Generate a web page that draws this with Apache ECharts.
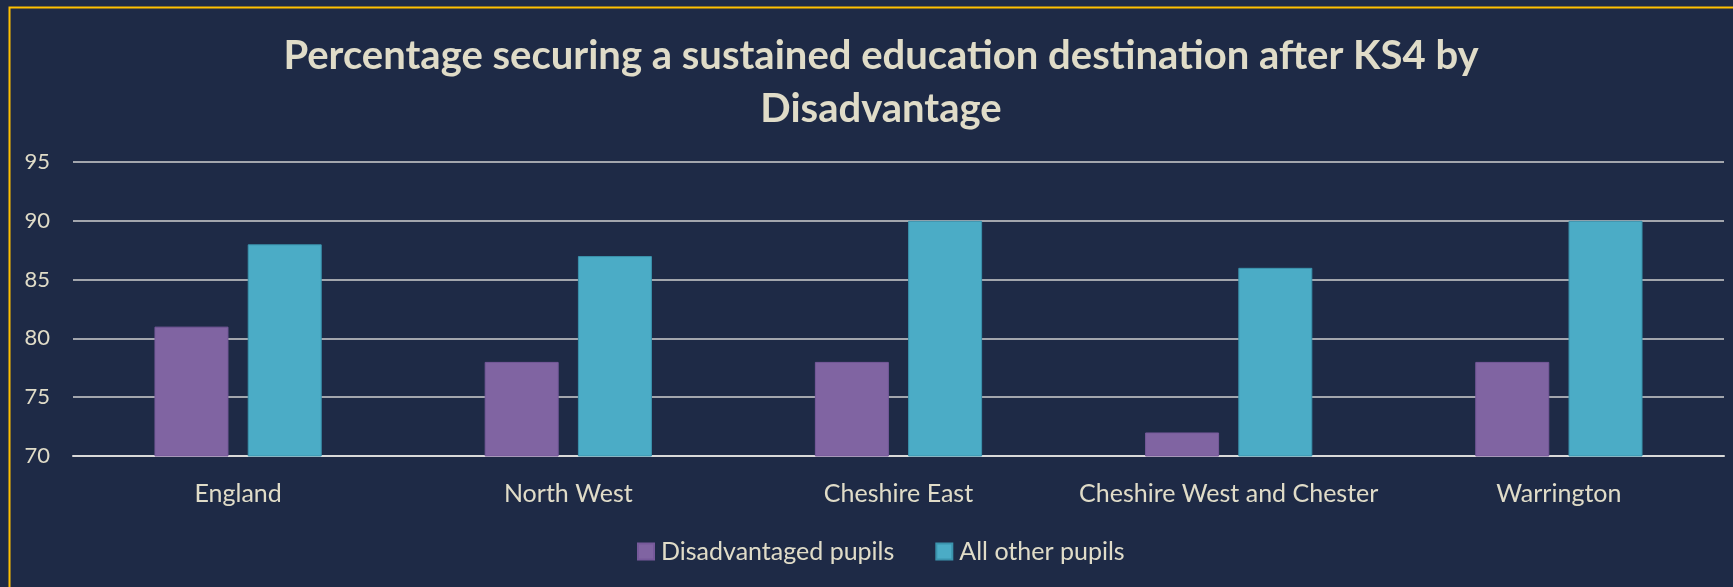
<!DOCTYPE html>
<html>
<head>
<meta charset="utf-8">
<script src="https://cdn.jsdelivr.net/npm/echarts@6/dist/echarts.min.js"></script>
<style>
  html, body { margin: 0; padding: 0; background: #1e2a46; overflow: hidden; }
  #chart-container { width: 1733px; height: 587px; }
</style>
</head>
<body>
<div id="chart-container"></div>
<script>
var categories = ['England', 'North West', 'Cheshire East', 'Cheshire West and Chester', 'Warrington'];
var disadvantaged = [81, 78, 78, 72, 78];
var allOther = [88, 87, 90, 86, 90];
var seriesNames = ['Disadvantaged pupils', 'All other pupils'];

var dom = document.getElementById('chart-container');
var myChart = echarts.init(dom, null, { renderer: 'canvas' });

var textColor = '#e0dcc8';
var fontName = 'Lato';

var option = {
  backgroundColor: '#1e2a46',
  animation: false,
  title: {
    text: 'Percentage securing a sustained education destination after KS4 by\nDisadvantage',
    left: 876,
    top: 25,
    textAlign: 'center',
    textStyle: {
      color: textColor,
      fontFamily: fontName,
      fontWeight: 'bold',
      fontSize: 40,
      lineHeight: 53
    }
  },
  // yellow outline of the chart box
  graphic: [{
    type: 'rect',
    left: 7,
    top: 5,
    shape: { width: 1800, height: 700 },
    style: { fill: 'none', stroke: '#ffc000', lineWidth: 2 }
  }],
  legend: {
    left: 632,
    top: 534,
    itemWidth: 16,
    itemHeight: 16,
    itemGap: 41,
    icon: 'rect',
    textStyle: { color: textColor, fontFamily: fontName, fontSize: 25, padding: [0, 0, 0, 2] },
    data: seriesNames
  },
  grid: {
    left: 73,
    right: 9,
    top: 162,
    bottom: 131,
    containLabel: false
  },
  xAxis: {
    type: 'category',
    data: categories,
    axisTick: { show: false },
    axisLine: { lineStyle: { color: '#d9d9d9', width: 2 } },
    axisLabel: { color: textColor, fontFamily: fontName, fontSize: 25, margin: 25, interval: 0 }
  },
  yAxis: {
    type: 'value',
    min: 70,
    max: 95,
    interval: 5,
    axisLine: { show: false },
    axisTick: { show: false },
    axisLabel: { color: textColor, fontFamily: fontName, fontSize: 22, margin: 23 },
    splitLine: { lineStyle: { color: '#d0d0d0', width: 1.5 } }
  },
  series: [
    {
      name: seriesNames[0],
      type: 'bar',
      data: disadvantaged,
      barWidth: 74,
      barGap: '26%',
      itemStyle: { color: '#8064a2', borderColor: '#76599a', borderWidth: 1 }
    },
    {
      name: seriesNames[1],
      type: 'bar',
      data: allOther,
      barWidth: 74,
      itemStyle: { color: '#4bacc6', borderColor: '#3b93ad', borderWidth: 1 }
    }
  ]
};

myChart.setOption(option);
window.addEventListener('resize', myChart.resize);
</script>
</body>
</html>
